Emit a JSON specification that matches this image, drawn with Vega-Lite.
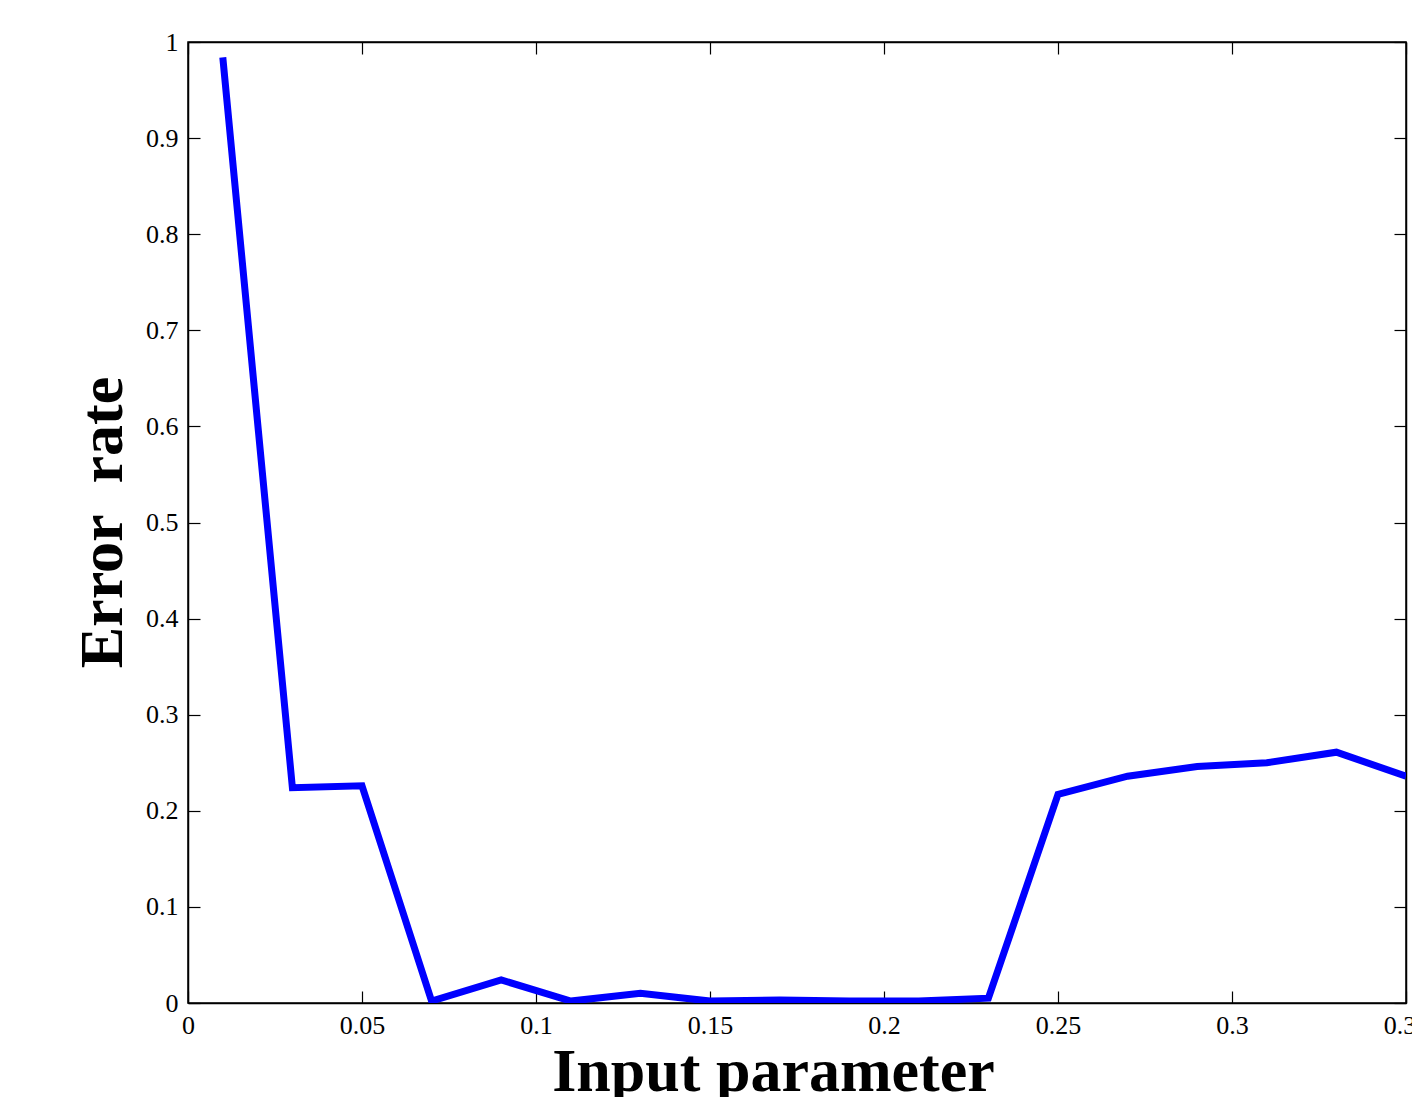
{
  "$schema": "https://vega.github.io/schema/vega-lite/v6.json",
  "width": 1218,
  "height": 961,
  "autosize": {"type": "none"},
  "padding": {"left": 188, "top": 42, "right": 6, "bottom": 94},
  "background": "white",
  "data": {"values": [
    {"x": 0.01, "y": 0.984},
    {"x": 0.03, "y": 0.224},
    {"x": 0.05, "y": 0.226},
    {"x": 0.07, "y": 0.002},
    {"x": 0.09, "y": 0.024},
    {"x": 0.11, "y": 0.002},
    {"x": 0.13, "y": 0.010},
    {"x": 0.15, "y": 0.002},
    {"x": 0.17, "y": 0.003},
    {"x": 0.19, "y": 0.002},
    {"x": 0.21, "y": 0.002},
    {"x": 0.23, "y": 0.005},
    {"x": 0.25, "y": 0.217},
    {"x": 0.27, "y": 0.236},
    {"x": 0.29, "y": 0.246},
    {"x": 0.31, "y": 0.250},
    {"x": 0.33, "y": 0.261},
    {"x": 0.35, "y": 0.236}
  ]},
  "layer": [
    {
      "mark": {"type": "line", "color": "#0000ff", "strokeWidth": 7, "clip": true},
      "encoding": {
        "x": {"field": "x", "type": "quantitative", "scale": {"domain": [0, 0.35], "nice": false, "zero": false},
          "axis": {"title": "Input parameter", "orient": "bottom", "values": [0,0.05,0.1,0.15,0.2,0.25,0.3,0.35], "format": "~g",
            "labelFlush": false, "labelPadding": 21, "labelOverlap": false,
            "titleX": 585, "titleY": 87, "titleBaseline": "alphabetic", "titleAnchor": null, "titleAlign": "center"}},
        "y": {"field": "y", "type": "quantitative", "scale": {"domain": [0, 1], "nice": false},
          "axis": {"title": "Error\u00a0\u00a0rate", "orient": "left", "values": [0,0.1,0.2,0.3,0.4,0.5,0.6,0.7,0.8,0.9,1], "format": "~g",
            "labelPadding": 22, "labelOverlap": false, "labelFlush": false,
            "titleX": -67, "titleY": 480, "titleAngle": -90, "titleBaseline": "alphabetic", "titleAlign": "center", "titleAnchor": null}}
      }
    },
    {
      "mark": {"type": "line", "strokeOpacity": 0},
      "encoding": {
        "x": {"field": "x", "type": "quantitative", "scale": {"domain": [0, 0.35], "nice": false, "zero": false},
          "axis": {"title": null, "orient": "top", "labels": false, "values": [0,0.05,0.1,0.15,0.2,0.25,0.3,0.35]}},
        "y": {"field": "y", "type": "quantitative", "scale": {"domain": [0, 1], "nice": false},
          "axis": {"title": null, "orient": "right", "labels": false, "values": [0,0.1,0.2,0.3,0.4,0.5,0.6,0.7,0.8,0.9,1]}}
      }
    }
  ],
  "resolve": {"axis": {"x": "independent", "y": "independent"}},
  "config": {
    "view": {"stroke": "black", "strokeWidth": 1.5},
    "axis": {
      "grid": false,
      "domainColor": "black",
      "domainWidth": 1.5,
      "tickColor": "black",
      "tickWidth": 1.2,
      "tickSize": -12,
      "labelFont": "Liberation Serif",
      "labelFontSize": 26,
      "labelColor": "black",
      "titleFont": "Liberation Serif",
      "titleFontSize": 62,
      "titleFontWeight": "bold",
      "titleColor": "black"
    }
  }
}
